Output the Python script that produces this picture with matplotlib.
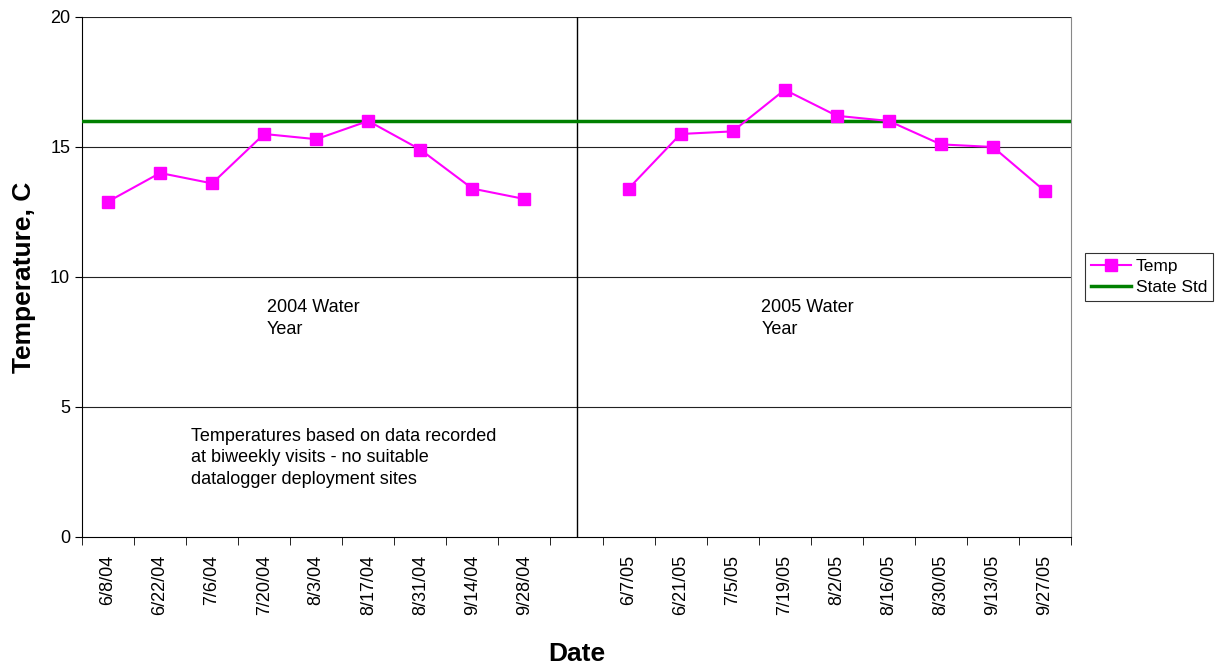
import matplotlib.pyplot as plt
import numpy as np

plt.rcParams["font.family"] = ["Liberation Sans", "DejaVu Sans"]

dates = ["6/8/04", "6/22/04", "7/6/04", "7/20/04", "8/3/04", "8/17/04", "8/31/04", "9/14/04", "9/28/04",
         "",
         "6/7/05", "6/21/05", "7/5/05", "7/19/05", "8/2/05", "8/16/05", "8/30/05", "9/13/05", "9/27/05"]
temp = [12.9, 14.0, 13.6, 15.5, 15.3, 16.0, 14.9, 13.4, 13.0,
        np.nan,
        13.4, 15.5, 15.6, 17.2, 16.2, 16.0, 15.1, 15.0, 13.3]
state_std = 16

fig = plt.figure(figsize=(12.2, 6.66), dpi=100)
ax = fig.add_axes([0.0672, 0.1937, 0.8107, 0.7808])

x = np.arange(len(dates))
for y in [5, 10, 15, 20]:
    ax.axhline(y, color="#222222", lw=0.8, zorder=1)
ax.axvline(9, color="black", lw=1, zorder=2)

# plot the two seasons separately so the gap stays empty
ax.plot(x[:9], temp[:9], color="#FF00FF", marker="s", ms=8, lw=1.5, label="Temp", zorder=4)
ax.plot(x[10:], temp[10:], color="#FF00FF", marker="s", ms=8, lw=1.5, zorder=4)
ax.axhline(state_std, color="#008000", lw=2.5, label="State Std", zorder=3)

ax.set_xlim(-0.5, len(dates) - 0.5)
ax.set_ylim(0, 20)
ax.set_yticks([0, 5, 10, 15, 20])
ax.tick_params(axis="y", labelsize=13, length=5, direction="out")
ax.set_xticks(x)
ax.set_xticklabels(dates, rotation=90, fontsize=13)
ax.tick_params(axis="x", length=0, pad=13)
ax.set_xticks(np.arange(-0.5, len(dates)), minor=True)
ax.tick_params(axis="x", which="minor", length=6, direction="out")

ax.spines["top"].set_visible(False)
ax.spines["right"].set_color("#888888")

ax.set_ylabel("Temperature, C", fontsize=19, fontweight="bold", labelpad=10)
ax.set_xlabel("Date", fontsize=19, fontweight="bold", labelpad=19)

ax.text(3.05, 8.4, "2004 Water\nYear", fontsize=13, va="center", ha="left", linespacing=1.35)
ax.text(12.55, 8.4, "2005 Water\nYear", fontsize=13, va="center", ha="left", linespacing=1.35)
ax.text(1.6, 3.05, "Temperatures based on data recorded\nat biweekly visits - no suitable\ndatalogger deployment sites",
        fontsize=13, va="center", ha="left", linespacing=1.35)

leg = ax.legend(loc="center left", bbox_to_anchor=(1.012, 0.5), fontsize=12.5, frameon=True,
                fancybox=False, edgecolor="black", borderpad=0.35, handlelength=2.3,
                handletextpad=0.3, labelspacing=0.3, borderaxespad=0.1)
leg.get_frame().set_linewidth(0.8)

fig.savefig("out.png", dpi=100)
